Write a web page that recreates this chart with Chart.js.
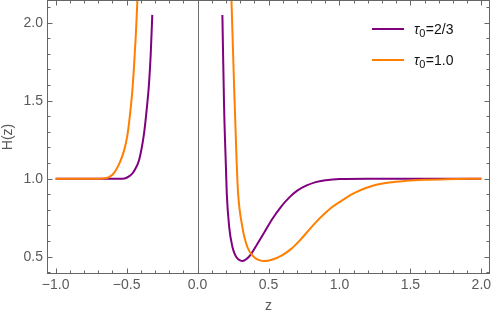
<!DOCTYPE html>
<html>
<head>
<meta charset="utf-8">
<script src="https://cdn.jsdelivr.net/npm/chart.js@4"></script>
<style>
  html, body { margin: 0; padding: 0; background: #fff; }
  canvas { display: block; }
</style>
</head>
<body>
<canvas id="chart" width="492" height="316"></canvas>
<script>
// tau0 = 2/3 (purple), a null y splits the two branches around the pole
const purpleX = [-1.0, -0.8, -0.6, -0.53, -0.5, -0.46, -0.44, -0.413, -0.395, -0.377, -0.36, -0.342, -0.33, -0.319,
  0,
  0.175, 0.187, 0.199, 0.206, 0.223, 0.246, 0.263, 0.281, 0.3, 0.317, 0.345, 0.376, 0.42, 0.47, 0.529, 0.588, 0.647, 0.7, 0.765, 0.833, 0.9, 0.95, 1.0, 1.2, 1.6, 2.0];
const purpleY = [1.0, 1.0, 1.0, 1.0, 1.006, 1.032, 1.06, 1.117, 1.19, 1.29, 1.43, 1.61, 1.8, 2.05,
  null,
  2.05, 1.46, 1.1, 0.904, 0.69, 0.562, 0.515, 0.489, 0.476, 0.472, 0.485, 0.515, 0.58, 0.655, 0.745, 0.82, 0.88, 0.922, 0.955, 0.978, 0.99, 0.995, 0.998, 1.0, 1.0, 1.0];

// tau0 = 1.0 (orange)
const orangeX = [-1.0, -0.8, -0.7, -0.65, -0.624, -0.6, -0.577, -0.55, -0.518, -0.496, -0.478, -0.46, -0.448, -0.435, -0.424, -0.412,
  0,
  0.23, 0.239, 0.257, 0.276, 0.286, 0.316, 0.351, 0.398, 0.435, 0.469, 0.529, 0.598, 0.66, 0.716, 0.765, 0.833, 0.9, 0.951, 1.0, 1.068, 1.118, 1.186, 1.235, 1.35, 1.47, 1.6, 1.75, 2.0];
const orangeY = [1.0, 1.0, 1.0, 1.003, 1.01, 1.025, 1.053, 1.1, 1.18, 1.27, 1.395, 1.56, 1.715, 1.92, 2.145, 2.4,
  null,
  2.41, 2.145, 1.61, 1.096, 0.904, 0.69, 0.562, 0.497, 0.478, 0.472, 0.482, 0.51, 0.55, 0.6, 0.65, 0.72, 0.78, 0.82, 0.85, 0.89, 0.914, 0.94, 0.955, 0.975, 0.986, 0.993, 0.997, 1.0];

const seriesTau = ["2/3", "1.0"];
const seriesColors = ["#800080", "#ff8000"];

const xTickValues = [-1.0, -0.5, 0.0, 0.5, 1.0, 1.5, 2.0];
const yTickValues = [0.5, 1.0, 1.5, 2.0];

const xRange = [-1.061, 2.061];
const yRange = [0.389, 2.1455];

const toPoints = (xs, ys) => xs.map((x, i) => ({ x: x, y: ys[i] }));

// minor ticks every 0.1
const xMinor = [];
for (let i = -10; i <= 20; i++) xMinor.push(i / 10);
const yMinor = [];
for (let i = 4; i <= 21; i++) yMinor.push(i / 10);
const isMajor = v => Math.abs(v * 2 - Math.round(v * 2)) < 1e-6;

const fmt = v => (v < 0 ? "\u2212" + Math.abs(v).toFixed(1) : v.toFixed(1));

const frame = {
  id: "frame",
  beforeDatasetsDraw(chart) {
    const { ctx, chartArea: a, scales: { x } } = chart;
    const p = Math.round(x.getPixelForValue(0)) + 0.5;
    ctx.save();
    ctx.strokeStyle = "#6e6e6e";
    ctx.lineWidth = 1;
    ctx.beginPath();
    ctx.moveTo(p, a.top);
    ctx.lineTo(p, a.bottom);
    ctx.stroke();
    ctx.restore();
  },
  afterDatasetsDraw(chart) {
    const { ctx, chartArea: a, scales: { x, y } } = chart;
    const L = Math.round(a.left) + 0.5, R = Math.round(a.right) - 0.5;
    const T = Math.round(a.top) + 0.5, B = Math.round(a.bottom) - 0.5;
    ctx.save();
    ctx.strokeStyle = "#666";
    ctx.lineWidth = 1;
    ctx.strokeRect(L, T, R - L, B - T);
    ctx.beginPath();
    xMinor.forEach(v => {
      const len = isMajor(v) ? 5 : 3;
      const p = Math.round(x.getPixelForValue(v)) + 0.5;
      ctx.moveTo(p, B); ctx.lineTo(p, B - len);
      ctx.moveTo(p, T); ctx.lineTo(p, T + len);
    });
    yMinor.forEach(v => {
      const len = isMajor(v) ? 5 : 3;
      const p = Math.round(y.getPixelForValue(v)) + 0.5;
      ctx.moveTo(L, p); ctx.lineTo(L + len, p);
      ctx.moveTo(R, p); ctx.lineTo(R - len, p);
    });
    ctx.stroke();

    // legend inside the plot, top right
    seriesTau.forEach((tau, i) => {
      const ly = 29 + i * 31;
      const lx = a.right - 118;
      ctx.strokeStyle = seriesColors[i];
      ctx.lineWidth = 2;
      ctx.beginPath();
      ctx.moveTo(lx, ly);
      ctx.lineTo(lx + 32, ly);
      ctx.stroke();
      ctx.fillStyle = "#111";
      ctx.textBaseline = "alphabetic";
      ctx.textAlign = "left";
      let tx = lx + 42;
      ctx.font = "italic 14px 'Liberation Sans', Arial, sans-serif";
      ctx.fillText("\u03c4", tx, ly + 4.5);
      tx += ctx.measureText("\u03c4").width;
      ctx.font = "11px 'Liberation Sans', Arial, sans-serif";
      ctx.fillText("0", tx, ly + 8);
      tx += ctx.measureText("0").width + 0.5;
      ctx.font = "14px 'Liberation Sans', Arial, sans-serif";
      ctx.fillText("=" + tau, tx, ly + 4.5);
    });
    ctx.restore();
  }
};

Chart.defaults.font.family = "'Liberation Sans', Arial, sans-serif";
Chart.defaults.font.size = 14;
Chart.defaults.color = "#5a5a5a";

new Chart(document.getElementById("chart"), {
  type: "line",
  data: {
    datasets: [
      {
        label: "\u03c4\u2080=" + seriesTau[0],
        data: toPoints(purpleX, purpleY),
        borderColor: seriesColors[0],
        borderWidth: 2,
        pointRadius: 0,
        cubicInterpolationMode: "monotone",
        spanGaps: false,
        order: 1
      },
      {
        label: "\u03c4\u2080=" + seriesTau[1],
        data: toPoints(orangeX, orangeY),
        borderColor: seriesColors[1],
        borderWidth: 2,
        pointRadius: 0,
        cubicInterpolationMode: "monotone",
        spanGaps: false,
        order: 0
      }
    ]
  },
  options: {
    responsive: false,
    animation: false,
    layout: { padding: { left: 0, right: 2, top: 0, bottom: 0 } },
    plugins: { legend: { display: false }, tooltip: { enabled: false } },
    scales: {
      x: {
        type: "linear",
        min: xRange[0],
        max: xRange[1],
        grid: { display: false, drawTicks: false },
        border: { display: false },
        ticks: { padding: 3, maxRotation: 0, callback: v => fmt(v) },
        title: { display: true, text: "z", color: "#5a5a5a", font: { size: 14 }, padding: { top: 0, bottom: 1 } },
        afterBuildTicks: s => { s.ticks = xTickValues.map(v => ({ value: v })); },
        afterFit: s => { s.height = 42; s.paddingLeft = 0; s.paddingRight = 0; }
      },
      y: {
        type: "linear",
        min: yRange[0],
        max: yRange[1],
        grid: { display: false, drawTicks: false },
        border: { display: false },
        ticks: { padding: 4, callback: v => fmt(v) },
        title: { display: true, text: "H(z)", color: "#5a5a5a", font: { size: 14 }, padding: { top: 0, bottom: 0 } },
        afterBuildTicks: s => { s.ticks = yTickValues.map(v => ({ value: v })); },
        afterFit: s => { s.width = 47; s.paddingTop = 0; s.paddingBottom = 0; }
      }
    }
  },
  plugins: [frame]
});
</script>
</body>
</html>
